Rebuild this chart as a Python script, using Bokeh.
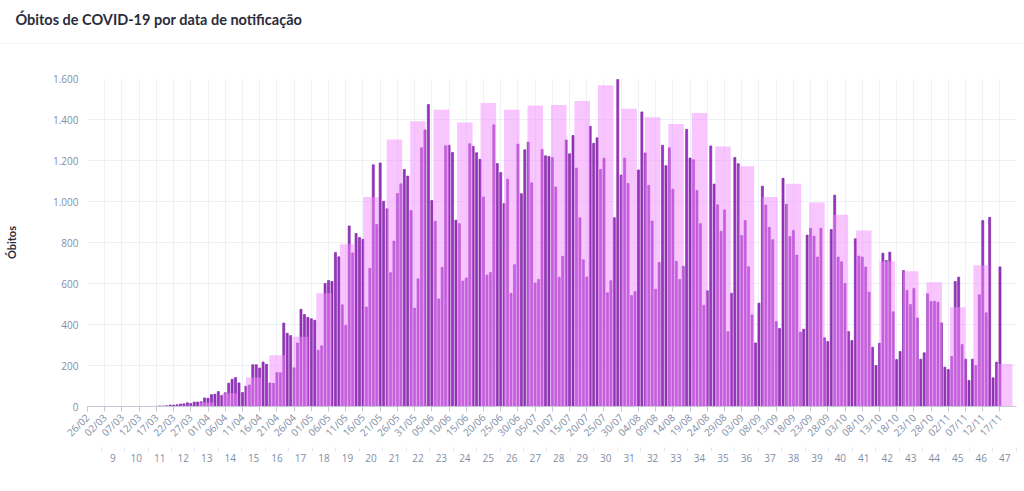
from bokeh.plotting import figure
from bokeh.layouts import column
from bokeh.models import Range1d, LinearAxis, FixedTicker, Label, Span, ColumnDataSource
from bokeh.embed import file_html
from bokeh.resources import INLINE

# Daily deaths by notification date, 26/02/2020 .. 17/11/2020 (day index 0..265)
deaths_feb = [0, 0, 0, 0]
deaths_mar = [0] * 16 + [1, 3, 3, 4, 7, 7, 9, 12, 13, 18, 15, 22, 22, 23, 42]
deaths_apr = [40, 58, 60, 73, 54, 67, 114, 133, 141, 115, 68, 99, 105, 204, 204, 188, 217, 206, 115, 113,
              166, 165, 407, 357, 346, 189, 310, 474, 449, 435]
deaths_may = [428, 421, 275, 296, 600, 615, 610, 751, 730, 496, 396, 881, 749, 844, 824, 816, 485, 674, 1179, 888,
              1188, 1001, 965, 653, 807, 1039, 1086, 1156, 1124, 956, 480]
deaths_jun = [623, 1262, 1349, 1473, 1005, 904, 525, 679, 1272, 1274, 1239, 909, 892, 612, 627, 1282, 1269, 1238,
              1206, 1022, 641, 654, 1374, 1185, 1141, 990, 1109, 552, 692, 1280]
deaths_jul = [1038, 1252, 1290, 1091, 602, 620, 1254, 1223, 1220, 1214, 1071, 631, 733, 1300, 1233, 1322, 1163, 921,
              716, 632, 1367, 1284, 1311, 1156, 1211, 555, 614, 921, 1595, 1129, 1212]
deaths_aug = [1088, 541, 561, 1154, 1437, 1237, 1079, 905, 572, 703, 1274, 1175, 1262, 1060, 709, 620, 684, 1352,
              1212, 1204, 1054, 892, 494, 565, 1271, 1085, 984, 855, 959, 366, 553]
deaths_sep = [1215, 1184, 834, 907, 682, 447, 310, 504, 1075, 983, 874, 814, 415, 381, 1113, 987, 829, 858, 739, 363,
              377, 836, 869, 831, 729, 869, 335, 317, 863, 1031]
deaths_oct = [729, 706, 600, 366, 322, 818, 734, 729, 680, 558, 289, 200, 309, 748, 712, 753, 462, 229, 268, 663,
              566, 498, 576, 432, 231, 262, 550, 512, 514, 509, 408]
deaths_nov = [192, 180, 244, 610, 631, 302, 231, 127, 231, 200, 545, 907, 457, 923, 140, 216, 681]

daily_deaths = (deaths_feb + deaths_mar + deaths_apr + deaths_may + deaths_jun + deaths_jul + deaths_aug
                + deaths_sep + deaths_oct + deaths_nov)
day_index = list(range(len(daily_deaths)))

# Weekly totals per epidemiological week 9..47
weeks = list(range(9, 48))
weekly_totals = [0, 0, 0, 18, 96, 318, 692, 1223, 1669, 2706, 3877, 5006, 6380, 6821, 7096, 6790, 7256, 7094,
                 7195, 7204, 7303, 7677, 7114, 6914, 6755, 7018, 6213, 5741, 5007, 5322, 4874, 4581, 4207, 3470,
                 3232, 2970, 2370, 3375, 1015]

date_tick_labels = ["26/02", "02/03", "07/03", "12/03", "17/03", "22/03", "27/03", "01/04", "06/04", "11/04",
                    "16/04", "21/04", "26/04", "01/05", "06/05", "11/05", "16/05", "21/05", "26/05", "31/05",
                    "05/06", "10/06", "15/06", "20/06", "25/06", "30/06", "05/07", "10/07", "15/07", "20/07",
                    "25/07", "30/07", "04/08", "09/08", "14/08", "19/08", "24/08", "29/08", "03/09", "08/09",
                    "13/09", "18/09", "23/09", "28/09", "03/10", "08/10", "13/10", "18/10", "23/10", "28/10",
                    "02/11", "07/11", "12/11", "17/11"]
date_tick_days = list(range(0, 5 * len(date_tick_labels), 5))
y_ticks = [0, 200, 400, 600, 800, 1000, 1200, 1400, 1600]
y_tick_labels = ["0", "200", "400", "600", "800", "1.000", "1.200", "1.400", "1.600"]

TITLE = "Óbitos de COVID-19 por data de notificação"
FONT = "Open Sans"
TITLE_FONT = "Lato"
TICK_COLOR = "#7f8ea6"
DARK = "#2b2d3c"

# ---------- header (title + separator line) ----------
head = figure(width=1024, height=44, x_range=Range1d(0, 1024), y_range=Range1d(0, 44),
              output_backend="svg", toolbar_location=None,
              x_axis_location=None, y_axis_location=None, min_border=0)
if "frame_align" in head.properties():
    head.frame_align = False
head.grid.visible = False
head.outline_line_color = None
head.add_layout(Label(x=15, y=25, text=TITLE, text_font=TITLE_FONT, text_font_size="14.5px",
                      text_font_style="bold", text_color=DARK, text_baseline="alphabetic",
                      text_align="left"))
head.add_layout(Span(location=0.5, dimension="width", line_color="#e9eef4", line_width=1))

# ---------- chart ----------
p = figure(width=1024, height=447, x_range=Range1d(0, 269.8), y_range=Range1d(0, 1600),
           output_backend="svg", toolbar_location=None,
           min_border_left=87, min_border_right=8, min_border_top=34, min_border_bottom=85)
if "frame_align" in p.properties():
    p.frame_align = False
p.extra_x_ranges = {"wk": Range1d(7.922, 47.505)}
p.extra_y_ranges = {"wk_total": Range1d(0, 7840)}
p.outline_line_color = None

p.grid.grid_line_color = "#edf1f6"
p.grid.grid_line_width = 1

ya = p.yaxis[0]
ya.ticker = FixedTicker(ticks=y_ticks)
ya.major_label_overrides = dict(zip(y_ticks, y_tick_labels))
ya.axis_line_color = None
ya.major_tick_line_color = None
ya.minor_tick_line_color = None
ya.major_tick_out = 0
ya.major_label_standoff = 9
ya.major_label_text_font = FONT
ya.major_label_text_font_size = "10px"
ya.major_label_text_color = TICK_COLOR
ya.axis_label = "Óbitos"
ya.axis_label_text_font = TITLE_FONT
ya.axis_label_text_font_style = "bold"
ya.axis_label_text_font_size = "11px"
ya.axis_label_text_color = DARK
ya.axis_label_standoff = 32

xa = p.xaxis[0]
xa.ticker = FixedTicker(ticks=date_tick_days)
xa.major_label_overrides = dict(zip(date_tick_days, date_tick_labels))
xa.major_label_orientation = 0.785398
xa.axis_line_color = "#c3cad3"
xa.major_tick_line_color = "#c3cad3"
xa.major_tick_out = 5
xa.major_tick_in = 0
xa.minor_tick_line_color = None
xa.major_label_standoff = 4
xa.major_label_text_font = FONT
xa.major_label_text_font_size = "10px"
xa.major_label_text_color = TICK_COLOR

wa = LinearAxis(x_range_name="wk",
                ticker=FixedTicker(ticks=weeks, minor_ticks=[w - 0.5 for w in weeks] + [47.5]))
wa.major_label_overrides = {w: str(w) for w in weeks}
wa.axis_line_color = None
wa.major_tick_line_color = None
wa.major_tick_out = 0
wa.major_tick_in = 0
wa.minor_tick_line_color = "#e3e8ee"
wa.minor_tick_out = 4
wa.minor_tick_in = 0
wa.major_label_standoff = 2
wa.major_label_text_font = FONT
wa.major_label_text_font_size = "10px"
wa.major_label_text_color = TICK_COLOR
p.add_layout(wa, "below")

daily_src = ColumnDataSource(dict(day=day_index, deaths=daily_deaths))
weekly_src = ColumnDataSource(dict(week=weeks, total=weekly_totals))

p.vbar(x="day", top="deaths", width=0.6, source=daily_src,
       fill_color="#9a34c2", line_color="#7a1ea0", line_width=0.6)
p.vbar(x="week", top="total", width=0.66, source=weekly_src, x_range_name="wk", y_range_name="wk_total",
       fill_color="#f48cff", fill_alpha=0.5, line_color=None)

layout = column(head, p, spacing=0)
open("out.html", "w").write(file_html(layout, INLINE))
